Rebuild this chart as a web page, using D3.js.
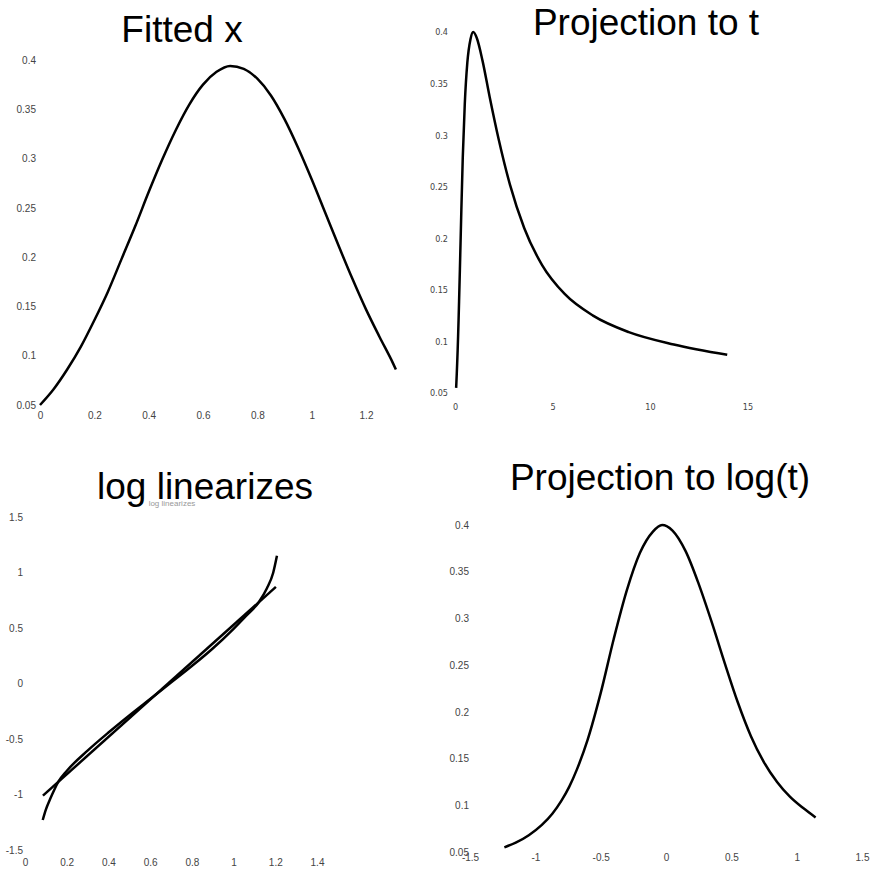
<!DOCTYPE html>
<html>
<head>
<meta charset="utf-8">
<script src="https://cdn.jsdelivr.net/npm/d3@7"></script>
<style>
  body { margin: 0; background: #fff; }
  svg { display: block; }
  .tick text { fill: #444; font-family: "Liberation Sans", Arial, sans-serif; font-size: 10px; }
  .narrow .tick text { font-family: "DejaVu Sans Condensed", "Liberation Sans Narrow", sans-serif; font-size: 9px; }
  .title { font-family: "Liberation Sans", Arial, sans-serif; font-size: 37px; fill: #000; text-anchor: middle; }
  .subtitle { font-family: "Liberation Sans", Arial, sans-serif; font-size: 8px; fill: #999; text-anchor: middle; }
  .curve { fill: none; stroke: #000; stroke-width: 2.5; stroke-linejoin: round; }
</style>
</head>
<body>
<div id="chart"></div>
<script>
/* DATA */
// Fitted x
var fitX = [0, 0.05, 0.1, 0.15, 0.2, 0.25, 0.3, 0.35, 0.4, 0.45, 0.5, 0.55, 0.6, 0.65, 0.7,
            0.75, 0.8, 0.85, 0.9, 0.95, 1.0, 1.05, 1.1, 1.15, 1.2, 1.25, 1.3, 1.31];
var fitY = [0.050, 0.066, 0.086, 0.109, 0.136, 0.165, 0.198, 0.231, 0.266, 0.299, 0.329, 0.355, 0.375, 0.388, 0.394,
            0.391, 0.381, 0.364, 0.340, 0.311, 0.279, 0.245, 0.211, 0.178, 0.147, 0.119, 0.092, 0.086];

// Projection to t
var projT = [0.058, 0.071, 0.089, 0.112, 0.135, 0.159, 0.182, 0.209, 0.251, 0.316, 0.398, 0.501, 0.631, 0.794, 0.933,
             1.122, 1.413, 1.778, 2.239, 2.818, 3.548, 4.467, 5.623, 7.079, 8.913, 11.22, 13.96];
var projTY = [0.055, 0.060, 0.068, 0.079, 0.091, 0.105, 0.120, 0.139, 0.170, 0.220, 0.278, 0.330, 0.370, 0.393, 0.400,
              0.394, 0.372, 0.337, 0.296, 0.252, 0.210, 0.174, 0.146, 0.125, 0.109, 0.097, 0.087];

// log linearizes
var linX = [0.085, 0.10, 0.12, 0.14, 0.16, 0.2, 0.3, 0.4, 0.5, 0.6, 0.7, 0.8, 0.9, 1.0, 1.06, 1.12, 1.16, 1.19, 1.208];
var linCurve = [-1.23, -1.136, -1.043, -0.959, -0.885, -0.788, -0.605, -0.442, -0.288, -0.140, 0.008, 0.157, 0.315,
                0.493, 0.609, 0.730, 0.858, 0.998, 1.15];
var fitLineX = [0.086, 1.203];
var fitLineY = [-1.01, 0.87];

// Projection to log(t)
var projU = [-1.237, -1.15, -1.05, -0.95, -0.87, -0.80, -0.74, -0.68, -0.60, -0.50, -0.40, -0.30, -0.20, -0.10, -0.03,
             0.05, 0.15, 0.25, 0.35, 0.45, 0.55, 0.65, 0.75, 0.85, 0.95, 1.05, 1.145];
var projUY = [0.055, 0.060, 0.068, 0.079, 0.091, 0.105, 0.120, 0.139, 0.170, 0.220, 0.278, 0.330, 0.370, 0.393, 0.400,
              0.394, 0.372, 0.337, 0.296, 0.252, 0.210, 0.174, 0.146, 0.125, 0.109, 0.097, 0.087];

// tick labels
var densTicks = [0.05, 0.1, 0.15, 0.2, 0.25, 0.3, 0.35, 0.4];
var fitXTicks = [0, 0.2, 0.4, 0.6, 0.8, 1, 1.2];
var tTicks = [0, 5, 10, 15];
var linXTicks = [0, 0.2, 0.4, 0.6, 0.8, 1, 1.2, 1.4];
var linYTicks = [-1.5, -1, -0.5, 0, 0.5, 1, 1.5];
var uTicks = [-1.5, -1, -0.5, 0, 0.5, 1, 1.5];

var width = 870, height = 878;

var svg = d3.select("#chart").append("svg")
  .attr("width", width)
  .attr("height", height);

var fmt = function(d) { return String(+d.toFixed(2)); };

// one panel: scales in page pixels, axes without lines
function panel(p) {
  var x = d3.scaleLinear().domain(p.xDomain).range(p.xRange);
  var y = d3.scaleLinear().domain(p.yDomain).range(p.yRange);

  var g = svg.append("g").attr("class", p.cls || "");

  // y Axis
  g.append("g")
    .attr("transform", "translate(" + (p.xRange[0] + p.yAxisShift) + ",0)")
    .call(d3.axisLeft(y).tickValues(p.yTicks).tickSize(0).tickPadding(0).tickFormat(fmt))
    .call(a => a.select(".domain").remove());

  // x Axis
  g.append("g")
    .attr("transform", "translate(0," + p.xAxisY + ")")
    .call(d3.axisBottom(x).tickValues(p.xTicks).tickSize(0).tickPadding(0).tickFormat(fmt))
    .call(a => a.select(".domain").remove())
    .selectAll("text").attr("dy", "0.35em");

  var line = d3.line()
    .x(d => x(d[0]))
    .y(d => y(d[1]))
    .curve(d3.curveMonotoneX);

  p.series.forEach(function(s) {
    g.append("path")
      .attr("class", "curve")
      .attr("d", line(d3.zip(s[0], s[1])));
  });

  svg.append("text")
    .attr("class", "title")
    .attr("x", p.titleX)
    .attr("y", p.titleY)
    .text(p.title);
}

panel({
  title: "Fitted x", titleX: 182, titleY: 42,
  xDomain: [0, 1.2], xRange: [40, 366],
  yDomain: [0.05, 0.4], yRange: [405, 60],
  xTicks: fitXTicks, yTicks: densTicks,
  yAxisShift: -4, xAxisY: 415,
  series: [[fitX, fitY]]
});

panel({
  title: "Projection to t", titleX: 646, titleY: 35, cls: "narrow",
  xDomain: [0, 15], xRange: [455, 747.5],
  yDomain: [0.05, 0.4], yRange: [393, 32],
  xTicks: tTicks, yTicks: densTicks,
  yAxisShift: -7, xAxisY: 407,
  series: [[projT, projTY]]
});

panel({
  title: "log linearizes", titleX: 205, titleY: 499,
  xDomain: [0, 1.4], xRange: [25, 317],
  yDomain: [-1.5, 1.5], yRange: [850, 517],
  xTicks: linXTicks, yTicks: linYTicks,
  yAxisShift: -2, xAxisY: 862,
  series: [[fitLineX, fitLineY], [linX, linCurve]]
});

// faint small caption under the third title
svg.append("text")
  .attr("class", "subtitle")
  .attr("x", 172)
  .attr("y", 506)
  .text("log linearizes");

panel({
  title: "Projection to log(t)", titleX: 660, titleY: 490,
  xDomain: [-1.5, 1.5], xRange: [470, 862],
  yDomain: [0.05, 0.4], yRange: [852, 525],
  xTicks: uTicks, yTicks: densTicks,
  yAxisShift: -1, xAxisY: 857,
  series: [[projU, projUY]]
});
</script>
</body>
</html>
